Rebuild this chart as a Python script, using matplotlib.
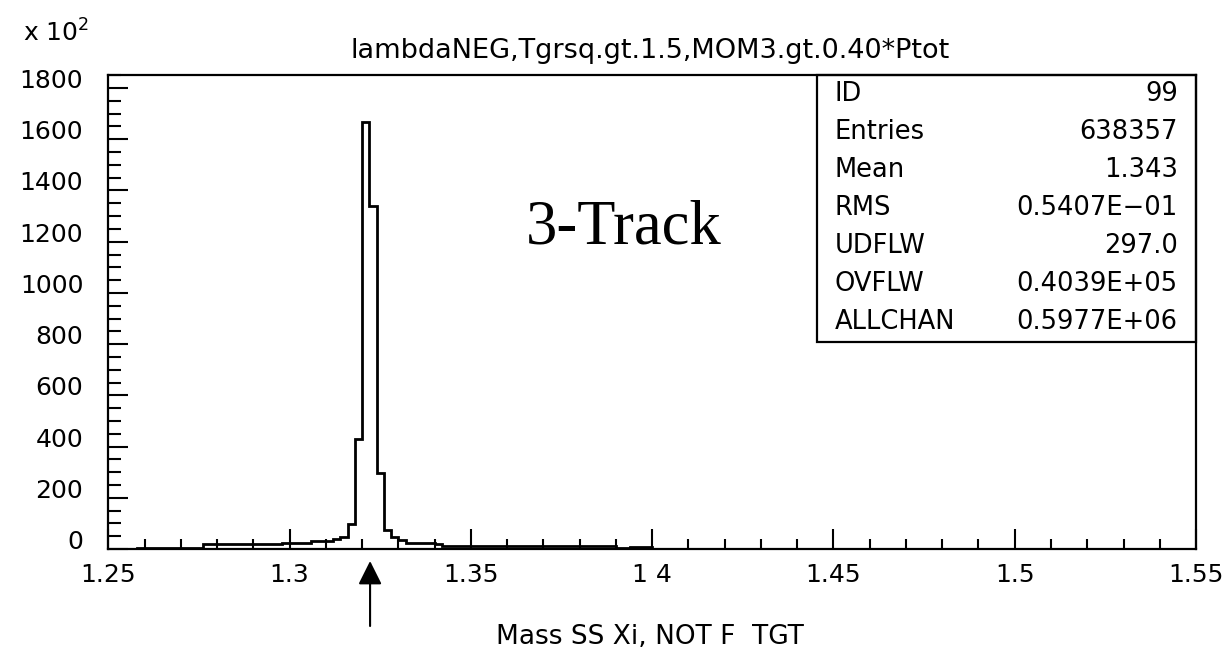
import numpy as np
import matplotlib
matplotlib.use('Agg')
import matplotlib.pyplot as plt

# histogram: 150 bins of 0.002 from 1.25 to 1.55, counts in units of 10^2
bin_lo = 1.25
bin_w = 0.002
counts = ([0] * 4 + [5] * 9 + [18] * 11 + [25] * 4 + [31] * 3 +
          [38, 47, 96, 430, 1666, 1339, 295, 74, 46, 35] +
          [25] * 4 + [20] + [13] * 14 + [10] * 10 + [5, 3, 9, 9, 9] +
          [0] * 75)

xticks = [1.25, 1.3, 1.35, 1.4, 1.45, 1.5, 1.55]
xticklabels = ['1.25', '1.3', '1.35', '1 4', '1.45', '1.5', '1.55']
yticks = [0, 200, 400, 600, 800, 1000, 1200, 1400, 1600, 1800]

title = 'lambdaNEG,Tgrsq.gt.1.5,MOM3.gt.0.40*Ptot'
xlabel = 'Mass SS Xi, NOT F  TGT'
stat_names = ['ID', 'Entries', 'Mean', 'RMS', 'UDFLW', 'OVFLW', 'ALLCHAN']
stat_values = ['99', '638357', '1.343', '0.5407E\u221201', '297.0',
               '0.4039E+05', '0.5977E+06']
arrow_x = 1.3222

plt.rcParams['font.family'] = ['DejaVu Sans']

fig = plt.figure(figsize=(12.32, 6.56), dpi=100)
ax = fig.add_axes([0.0879, 0.1631, 0.8829, 0.7226])

edges = bin_lo + bin_w * np.arange(len(counts) + 1)
ax.stairs(counts, edges, color='black', lw=2)

ax.set_xlim(1.25, 1.55)
ax.set_ylim(0, 1851)
ax.set_xticks(xticks, xticklabels)
ax.set_xticks(np.arange(1.25, 1.551, 0.01), minor=True)
ax.set_yticks(yticks)
ax.set_yticks(np.arange(0, 1851, 50), minor=True)
ax.tick_params(which='both', direction='in', top=False, right=False, width=1.5)
ax.tick_params(axis='x', which='major', length=14.5, pad=10, labelsize=18)
ax.tick_params(axis='x', which='minor', length=7)
ax.tick_params(axis='y', which='major', length=14.5, pad=18, labelsize=18)
ax.tick_params(axis='y', which='minor', length=9.5)
for lbl in ax.get_yticklabels():
    lbl.set_va('baseline')
for s in ax.spines.values():
    s.set_linewidth(1.6)

# stats box
ax.add_patch(plt.Rectangle((0.6513, 0.4367), 0.3487, 0.5633, transform=ax.transAxes,
                           fill=False, lw=1.6, clip_on=False))
for i, (n, v) in enumerate(zip(stat_names, stat_values)):
    y = (549 - (94 + 38 * i)) / 474
    ax.text(0.668, y, n, transform=ax.transAxes, fontsize=18.5, va='center', ha='left')
    ax.text(0.9831, y, v, transform=ax.transAxes, fontsize=18.5, va='center', ha='right')

ax.text(0.3835, 0.645, '3-Track', transform=ax.transAxes, fontsize=45,
        family='Liberation Serif', va='baseline', ha='left')

fig.text(0.5276, 0.9116, title, fontsize=19.5, ha='center', va='baseline')
fig.text(0.5276, 0.029, xlabel, fontsize=19, ha='center', va='center')
fig.text(0.0187, 0.936, r'x 10$^{2}$', fontsize=18, ha='left', va='baseline')

ax.annotate('', xy=(arrow_x, 0.1448), xycoords=('data', 'figure fraction'),
            xytext=(arrow_x, 0.0457), textcoords=('data', 'figure fraction'),
            arrowprops=dict(arrowstyle='-|>,head_length=1.0,head_width=0.5',
                            mutation_scale=14.4, color='black', lw=1.5,
                            shrinkA=0, shrinkB=0))

fig.savefig('out.png', dpi=100)
